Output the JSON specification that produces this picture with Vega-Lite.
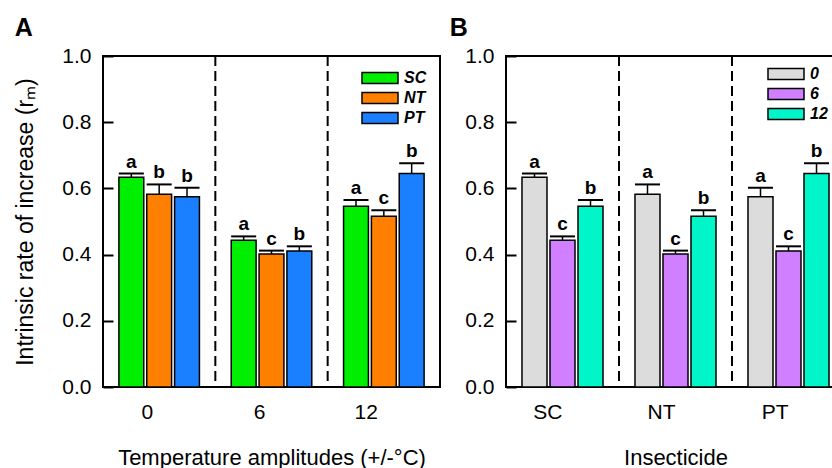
{
  "$schema": "https://vega.github.io/schema/vega-lite/v6.json",
  "padding": {"left": 13, "top": 15, "right": 0, "bottom": 0},
  "background": "white",
  "spacing": 7,
  "resolve": {"scale": {"fill": "independent", "color": "independent", "xOffset": "independent", "x": "independent"}, "legend": {"fill": "independent", "color": "independent"}},
  "config": {
    "font": "Liberation Sans",
    "view": {"stroke": "black", "strokeWidth": 2},
    "axis": {"grid": false, "domain": false, "labelColor": "black", "titleColor": "black", "labelFontSize": 21, "titleFontSize": 22, "titleFontWeight": "normal"},
    "title": {"fontSize": 25, "fontWeight": "bold", "anchor": "start", "frame": "bounds", "color": "black", "baseline": "alphabetic", "offset": 4},
    "legend": {"title": null, "orient": "none", "symbolType": "M-2,-0.6H2V0.6H-2Z", "symbolSize": 324, "symbolStrokeColor": "black", "symbolStrokeWidth": 1.5, "symbolOpacity": 1, "labelFontSize": 16, "labelFontWeight": "bold", "labelFontStyle": "italic", "labelColor": "black", "labelOffset": 14, "rowPadding": 1}
  },
  "datasets": {
    "rates": [
      {"temp": "0", "insect": "SC", "value": 0.634, "err": 0.645, "letA": "a", "letB": "a"},
      {"temp": "0", "insect": "NT", "value": 0.582, "err": 0.612, "letA": "b", "letB": "a"},
      {"temp": "0", "insect": "PT", "value": 0.575, "err": 0.602, "letA": "b", "letB": "a"},
      {"temp": "6", "insect": "SC", "value": 0.443, "err": 0.455, "letA": "a", "letB": "c"},
      {"temp": "6", "insect": "NT", "value": 0.402, "err": 0.412, "letA": "c", "letB": "c"},
      {"temp": "6", "insect": "PT", "value": 0.411, "err": 0.425, "letA": "b", "letB": "c"},
      {"temp": "12", "insect": "SC", "value": 0.546, "err": 0.565, "letA": "a", "letB": "b"},
      {"temp": "12", "insect": "NT", "value": 0.516, "err": 0.534, "letA": "c", "letB": "b"},
      {"temp": "12", "insect": "PT", "value": 0.645, "err": 0.676, "letA": "b", "letB": "b"}
    ]
  },
  "hconcat": [
    {
      "width": 337,
      "height": 331,
      "title": {"text": "A"},
      "data": {"name": "rates"},
      "layer": [
        {
          "transform": [{"filter": "datum.insect == 'SC' && datum.temp != '0'"}],
          "mark": {"type": "rule", "strokeDash": [10, 5], "strokeWidth": 2, "color": "black"},
          "encoding": {"x": {"field": "temp", "type": "nominal", "bandPosition": 0}}
        },
        {
          "mark": {"type": "bar", "stroke": "black", "strokeWidth": 1.5, "opacity": 1},
          "encoding": {
            "x": {"field": "temp", "type": "nominal", "scale": {"domain": ["0", "6", "12"], "paddingInner": 0, "paddingOuter": 0},
                  "axis": {"title": "Temperature amplitudes (+/-°C)", "ticks": false, "labelAngle": 0, "labelPadding": 25, "labelOffset": -6, "titlePadding": 25}},
            "xOffset": {"field": "insect", "type": "nominal", "scale": {"domain": ["SC", "NT", "PT"], "paddingInner": 0.107, "paddingOuter": 0.571}},
            "y": {"field": "value", "type": "quantitative", "scale": {"domain": [0, 1]},
                  "axis": {"values": [0, 0.2, 0.4, 0.6, 0.8, 1], "format": ".1f", "tickSize": -10, "tickWidth": 2, "tickColor": "black", "labelPadding": 22, "title": "Intrinsic rate of increase (rₘ)", "titleFontSize": 23, "titlePadding": 24}},
            "fill": {"field": "insect", "type": "nominal", "scale": {"domain": ["SC", "NT", "PT"], "range": ["#00ee00", "#ff8000", "#1a80ff"]},
                     "legend": {"legendX": 267, "legendY": 12}}
          }
        },
        {
          "mark": {"type": "rule", "strokeWidth": 1.5, "color": "black"},
          "encoding": {
            "x": {"field": "temp", "type": "nominal"},
            "xOffset": {"field": "insect", "type": "nominal"},
            "y": {"field": "value", "type": "quantitative"},
            "y2": {"field": "err"}
          }
        },
        {
          "mark": {"type": "tick", "thickness": 2, "size": 25, "color": "black", "opacity": 1},
          "encoding": {
            "x": {"field": "temp", "type": "nominal"},
            "xOffset": {"field": "insect", "type": "nominal"},
            "y": {"field": "err", "type": "quantitative"}
          }
        },
        {
          "mark": {"type": "text", "dy": -6, "baseline": "alphabetic", "fontSize": 19, "fontWeight": "bold", "color": "black"},
          "encoding": {
            "x": {"field": "temp", "type": "nominal"},
            "xOffset": {"field": "insect", "type": "nominal"},
            "y": {"field": "err", "type": "quantitative"},
            "text": {"field": "letA"}
          }
        }
      ]
    },
    {
      "width": 339,
      "height": 331,
      "title": {"text": "B", "dx": -15},
      "data": {"name": "rates"},
      "layer": [
        {
          "transform": [{"filter": "datum.temp == '0' && datum.insect != 'SC'"}],
          "mark": {"type": "rule", "strokeDash": [10, 5], "strokeWidth": 2, "color": "black"},
          "encoding": {"x": {"field": "insect", "type": "nominal", "bandPosition": 0}}
        },
        {
          "mark": {"type": "bar", "stroke": "black", "strokeWidth": 1.5, "opacity": 1},
          "encoding": {
            "x": {"field": "insect", "type": "nominal", "scale": {"domain": ["SC", "NT", "PT"], "paddingInner": 0, "paddingOuter": 0},
                  "axis": {"title": "Insecticide", "ticks": false, "labelAngle": 0, "labelPadding": 25, "titlePadding": 25}},
            "xOffset": {"field": "temp", "type": "nominal", "scale": {"domain": ["0", "6", "12"], "paddingInner": 0.107, "paddingOuter": 0.571}},
            "y": {"field": "value", "type": "quantitative", "scale": {"domain": [0, 1]},
                  "axis": {"values": [0, 0.2, 0.4, 0.6, 0.8, 1], "format": ".1f", "tickSize": -10, "tickWidth": 2, "tickColor": "black", "labelPadding": 22, "title": null}},
            "fill": {"field": "temp", "type": "nominal", "scale": {"domain": ["0", "6", "12"], "range": ["#dcdcdc", "#cf7fff", "#00f5c9"]},
                     "legend": {"legendX": 270, "legendY": 8}}
          }
        },
        {
          "mark": {"type": "rule", "strokeWidth": 1.5, "color": "black"},
          "encoding": {
            "x": {"field": "insect", "type": "nominal"},
            "xOffset": {"field": "temp", "type": "nominal"},
            "y": {"field": "value", "type": "quantitative"},
            "y2": {"field": "err"}
          }
        },
        {
          "mark": {"type": "tick", "thickness": 2, "size": 25, "color": "black", "opacity": 1},
          "encoding": {
            "x": {"field": "insect", "type": "nominal"},
            "xOffset": {"field": "temp", "type": "nominal"},
            "y": {"field": "err", "type": "quantitative"}
          }
        },
        {
          "mark": {"type": "text", "dy": -6, "baseline": "alphabetic", "fontSize": 19, "fontWeight": "bold", "color": "black"},
          "encoding": {
            "x": {"field": "insect", "type": "nominal"},
            "xOffset": {"field": "temp", "type": "nominal"},
            "y": {"field": "err", "type": "quantitative"},
            "text": {"field": "letB"}
          }
        }
      ]
    }
  ]
}
